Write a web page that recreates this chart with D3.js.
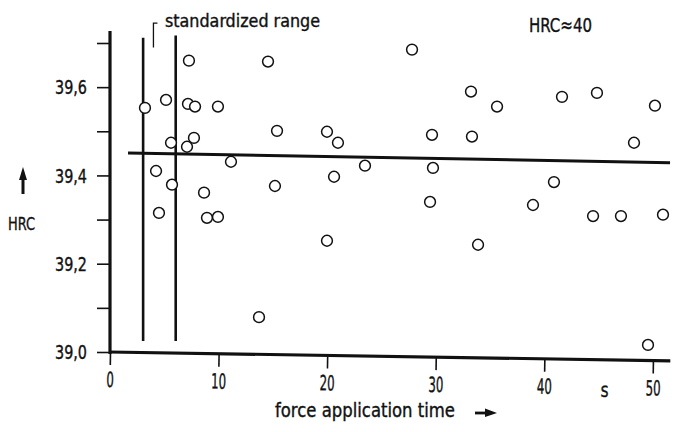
<!DOCTYPE html>
<html>
<head>
<meta charset="utf-8">
<script src="https://cdn.jsdelivr.net/npm/d3@7"></script>
<style>
  body { margin: 0; background: #fff; }
  text { font-family: 'Liberation Sans Narrow', 'DejaVu Sans Condensed', 'Roboto', sans-serif; fill: #111; stroke: #111; stroke-width: 0.35; }
</style>
</head>
<body>
<div id="chart"></div>
<script>
// force application time (s) and hardness (HRC)
const times = [3.22, 5.16, 7.27, 7.18, 7.83, 9.94, 14.55, 15.38, 5.62, 7.73, 7.09, 11.14,
  4.24, 5.71, 8.66, 4.51, 8.93, 9.94, 15.19, 19.98, 20.99, 20.63, 23.48, 19.98, 13.72,
  27.81, 33.24, 35.64, 29.65, 33.33, 29.74, 29.47, 33.89, 38.95, 40.88, 41.62, 44.84,
  44.48, 47.05, 48.25, 50.18, 50.92, 49.54]
const hardness = [39.553, 39.571, 39.660, 39.562, 39.556, 39.556, 39.658, 39.501, 39.474, 39.485, 39.465, 39.431,
  39.410, 39.379, 39.361, 39.315, 39.304, 39.306, 39.376, 39.499, 39.474, 39.397, 39.422, 39.252, 39.079,
  39.685, 39.590, 39.556, 39.492, 39.488, 39.417, 39.340, 39.243, 39.333, 39.385, 39.578, 39.587,
  39.308, 39.308, 39.474, 39.558, 39.311, 39.016]

// mean line end points and standardized range limits
const meanLine = [[1.66, 39.451], [51.57, 39.429]]
const rangeLimits = [3.05, 6.05]
const rangeTop = [39.712, 39.717]
const rangeBottom = 39.025

const xTicks = [0, 10, 20, 30, 40, 50]
const yTicks = [39.0, 39.1, 39.2, 39.3, 39.4, 39.5, 39.6, 39.7]
const yLabelled = [39.0, 39.2, 39.4, 39.6]

const width = 675
const height = 432

const x = d3.scaleLinear().domain([0, 50]).range([110, 653])
const y = d3.scaleLinear().domain([39.0, 39.7]).range([352, 43])

const svg = d3.select('#chart').append('svg')
  .attr('width', width).attr('height', height)

// ----- y axis -----
const yAxis = svg.append('g').attr('transform', `translate(${x(0)},0)`)
  .call(d3.axisLeft(y).tickValues(yTicks).tickSize(13).tickSizeOuter(0)
    .tickFormat(d => yLabelled.some(v => Math.abs(v - d) < 1e-9) ? d3.format('.1f')(d).replace('.', ',') : ''))
yAxis.select('.domain').remove()
yAxis.selectAll('.tick line').attr('stroke', '#111').attr('stroke-width', 1.6)
yAxis.selectAll('.tick text')
  .attr('x', -23).attr('dy', '0.36em')
  .attr('font-size', 19)
  .attr('textLength', 32).attr('lengthAdjust', 'spacingAndGlyphs')
yAxis.append('line')
  .attr('x1', 0).attr('x2', 0)
  .attr('y1', y(39.0) + 2).attr('y2', y(39.727))
  .attr('stroke', '#111').attr('stroke-width', 3.2)

// ----- x axis (slightly tilted, like the scan) -----
const xAxis = svg.append('g')
  .attr('transform', `translate(0,${y(39.0)}) rotate(0.9 ${x(0)} 0)`)
  .call(d3.axisBottom(x).tickValues(xTicks).tickSize(13).tickSizeOuter(0))
xAxis.select('.domain').remove()
xAxis.selectAll('.tick line').attr('stroke', '#111').attr('stroke-width', 1.6)
xAxis.selectAll('.tick text')
  .attr('y', 35).attr('dy', 0)
  .attr('font-size', 21)
  .attr('textLength', d => String(d).length * 7.5).attr('lengthAdjust', 'spacingAndGlyphs')
xAxis.append('line')
  .attr('x1', x(0) - 1).attr('x2', x(51.6))
  .attr('y1', 0).attr('y2', 0)
  .attr('stroke', '#111').attr('stroke-width', 3.2)
xAxis.append('text')
  .attr('x', x(45.6)).attr('y', 37)
  .attr('text-anchor', 'middle').attr('font-size', 20)
  .attr('textLength', 8).attr('lengthAdjust', 'spacingAndGlyphs')
  .text('s')

// ----- standardized range -----
svg.append('g').selectAll('line').data(rangeLimits).join('line')
  .attr('x1', d => x(d)).attr('x2', d => x(d))
  .attr('y1', (d, i) => y(rangeTop[i])).attr('y2', y(rangeBottom))
  .attr('stroke', '#111').attr('stroke-width', 2.6)

const bx = x(4.0)
svg.append('path')
  .attr('d', `M${bx + 4},${y(39.745)} H${bx} V${y(39.69)}`)
  .attr('fill', 'none').attr('stroke', '#111').attr('stroke-width', 1.3)
svg.append('text')
  .attr('x', 165).attr('y', 27)
  .attr('font-size', 17)
  .attr('textLength', 155).attr('lengthAdjust', 'spacingAndGlyphs')
  .text('standardized range')

// ----- mean line -----
svg.append('path')
  .datum(meanLine)
  .attr('d', d3.line().x(d => x(d[0])).y(d => y(d[1])))
  .attr('fill', 'none').attr('stroke', '#111').attr('stroke-width', 3)

// ----- measurements -----
svg.append('g').selectAll('circle').data(times.map((t, i) => [t, hardness[i]])).join('circle')
  .attr('cx', d => x(d[0])).attr('cy', d => y(d[1]))
  .attr('r', 5.4)
  .attr('fill', '#fff').attr('stroke', '#111').attr('stroke-width', 1.5)

// ----- labels -----
svg.append('text')
  .attr('x', 529).attr('y', 32)
  .attr('font-size', 20)
  .attr('textLength', 63).attr('lengthAdjust', 'spacingAndGlyphs')
  .text('HRC≈40')

svg.append('text')
  .attr('x', 8).attr('y', 230)
  .attr('font-size', 17)
  .attr('textLength', 27).attr('lengthAdjust', 'spacingAndGlyphs')
  .text('HRC')
svg.append('line')
  .attr('x1', 23).attr('x2', 23).attr('y1', 194).attr('y2', 176)
  .attr('stroke', '#111').attr('stroke-width', 3)
svg.append('path')
  .attr('d', 'M23,167 L19,180 L27,180 Z')
  .attr('fill', '#111')

svg.append('text')
  .attr('x', 275).attr('y', 417)
  .attr('font-size', 19)
  .attr('textLength', 180).attr('lengthAdjust', 'spacingAndGlyphs')
  .text('force application time')
svg.append('line')
  .attr('x1', 475).attr('x2', 488).attr('y1', 413).attr('y2', 413)
  .attr('stroke', '#111').attr('stroke-width', 2.8)
svg.append('path')
  .attr('d', 'M497,413 L485,408.5 L485,417 Z')
  .attr('fill', '#111')
</script>
</body>
</html>
